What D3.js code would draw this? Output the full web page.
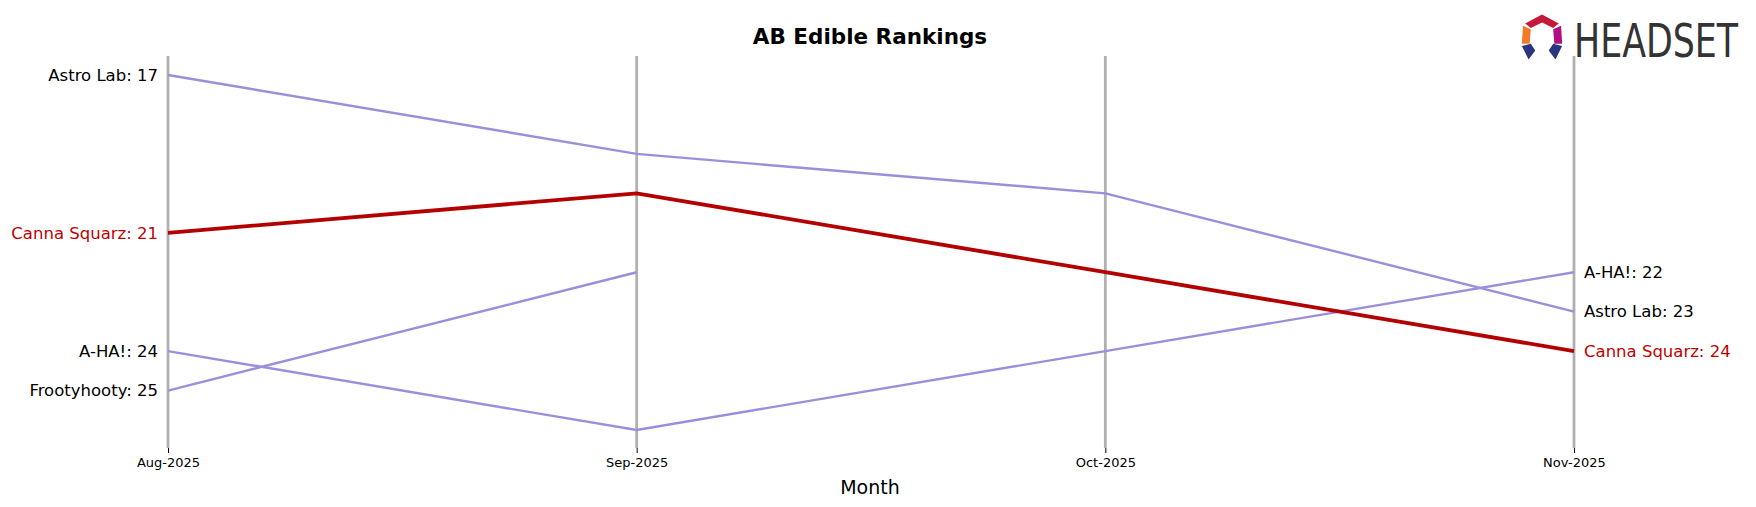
<!DOCTYPE html>
<html><head><meta charset="utf-8">
<script src="https://cdn.jsdelivr.net/npm/d3@7"></script>
<style>body{margin:0;background:#fff;font-family:"DejaVu Sans",sans-serif}</style>
</head><body><svg id="c" width="1756" height="507"></svg>
<script>
const months = ["Aug-2025","Sep-2025","Oct-2025","Nov-2025"];
const astroLab = [17,19,20,23];
const cannaSquarz = [21,20,22,24];
const aha = [24,26,24,22];
const frootyhooty = [25,22,null,null];
const series = [
  {name:"Astro Lab", values:astroLab, hi:false},
  {name:"A-HA!", values:aha, hi:false},
  {name:"Frootyhooty", values:frootyhooty, hi:false},
  {name:"Canna Squarz", values:cannaSquarz, hi:true}
];
const svg = d3.select("#c");
const x = d3.scalePoint().domain(months).range([168,1574]);
const y = d3.scaleLinear().domain([17,26]).range([75,430]);
months.forEach(m=>{
  svg.append("line").attr("x1",x(m)).attr("x2",x(m)).attr("y1",56).attr("y2",448)
    .attr("stroke","#b0b0b0").attr("stroke-width",2.8);
});
const ax = svg.append("g").attr("transform","translate(0,448)").call(d3.axisBottom(x).tickSize(5).tickPadding(5));
ax.select(".domain").remove();
ax.selectAll("text").attr("font-size",13).attr("font-family","DejaVu Sans").attr("fill","#000");
svg.append("text").attr("x",870).attr("y",494).attr("text-anchor","middle").attr("font-size",19).text("Month");
svg.append("text").attr("x",870).attr("y",44).attr("text-anchor","middle").attr("font-size",21.5).attr("font-weight","bold").text("AB Edible Rankings");
const line = d3.line().defined(d=>d.v!=null).x(d=>x(d.m)).y(d=>y(d.v));
series.forEach(s=>{
  const pts = s.values.map((v,i)=>({m:months[i],v}));
  svg.append("path").attr("d",line(pts)).attr("fill","none")
    .attr("stroke",s.hi?"#b30000":"#9b8fdc").attr("stroke-width",s.hi?3.8:2.4);
  const col = s.hi?"#c00000":"#000";
  const f = pts.find(p=>p.v!=null);
  svg.append("text").attr("x",x(f.m)-10).attr("y",y(f.v)).attr("dy","0.35em").attr("text-anchor","end")
    .attr("font-size",16.5).attr("fill",col).text(`${s.name}: ${f.v}`);
  const l = pts[pts.length-1];
  if(l.v!=null) svg.append("text").attr("x",x(l.m)+10).attr("y",y(l.v)).attr("dy","0.35em")
    .attr("font-size",16.5).attr("fill",col).text(`${s.name}: ${l.v}`);
});
// logo
const lg = svg.append("g").attr("transform","translate(1542,37) scale(1.12)");
lg.append("path").attr("d","M-15,-12 L0,-20 L15,-12 L10,-8 L0,-13 L-10,-8Z").attr("fill","#c4183c");
lg.append("path").attr("d","M-17,-10 L-10,-7 L-11,6 L-18,6Z").attr("fill","#f07c2a");
lg.append("path").attr("d","M17,-10 L10,-7 L11,6 L18,6Z").attr("fill","#b01080");
lg.append("path").attr("d","M-18,8 L-10,6 L-6,12 L-12,20Z").attr("fill","#2a3580");
lg.append("path").attr("d","M18,8 L10,6 L6,12 L12,20Z").attr("fill","#2a3580");
svg.append("text").attr("x",1574).attr("y",57).attr("font-size",46).attr("fill","#333")
  .attr("font-family","Liberation Sans Narrow, DejaVu Sans Condensed, sans-serif").attr("textLength",164).attr("lengthAdjust","spacingAndGlyphs").text("HEADSET");
</script></body></html>
